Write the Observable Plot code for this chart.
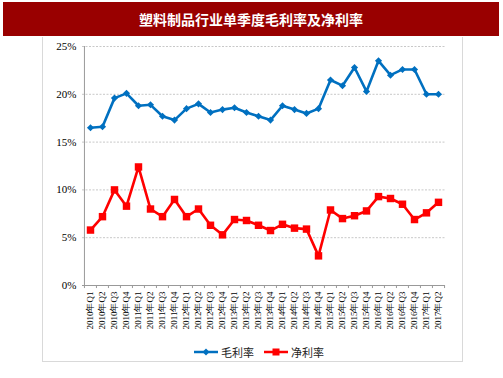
<!DOCTYPE html>
<html><head><meta charset="utf-8">
<script src="https://cdn.jsdelivr.net/npm/d3@7"></script>
<script src="https://cdn.jsdelivr.net/npm/@observablehq/plot@0.6"></script>
<style>
body{margin:0;width:503px;height:378px;position:relative;background:#fff;overflow:hidden;font-family:"Liberation Serif","Noto Sans CJK SC",serif;}
#title{position:absolute;left:3px;top:2px;width:496px;height:34px;background:#990000;color:#fff;font:bold 14px "Noto Sans CJK SC",sans-serif;line-height:34px;text-align:center;}
#box{position:absolute;left:42px;top:37px;width:419px;height:324px;border:1px solid #d9d9d9;border-top:none;}
#chart{position:absolute;left:0;top:38px;}
#legend{position:absolute;top:344px;left:0;width:503px;display:flex;justify-content:center;gap:10px;font:11px "Noto Sans CJK SC",sans-serif;color:#222;padding-left:15px;box-sizing:border-box;}
.li{display:flex;align-items:center;gap:3px;}
</style></head>
<body>
<div id="title">塑料制品行业单季度毛利率及净利率</div>
<div id="box"></div>
<div id="chart"></div>
<div id="legend"></div>
<script>
const years = [2010,2011,2012,2013,2014,2015,2016,2017];
const quarters = years.flatMap(y => [1,2,3,4].map(q => `${y}年Q${q}`)).slice(0, 30);
const grossMargin = [16.5,16.6,19.6,20.1,18.8,18.9,17.7,17.3,18.5,19.0,18.1,18.4,18.6,18.1,17.7,17.3,18.8,18.4,18.0,18.5,21.5,20.9,22.8,20.3,23.5,22.0,22.6,22.6,20.0,20.0];
const netMargin = [5.8,7.2,10.0,8.3,12.4,8.0,7.2,9.0,7.2,8.0,6.3,5.3,6.9,6.8,6.3,5.75,6.4,6.0,5.9,3.1,7.9,7.0,7.3,7.8,9.3,9.1,8.5,6.9,7.6,8.7];
const yTicks = [0,5,10,15,20,25];
const seriesNames = ["毛利率","净利率"];
const colors = ["#0070c0","#ff0000"];

const gross = quarters.map((q,i) => ({q, v: grossMargin[i]}));
const net = quarters.map((q,i) => ({q, v: netMargin[i]}));

const W = 503, H = 300, mL = 82, mR = 58;
const bw = (W - mL - mR) / quarters.length;

const chart = Plot.plot({
  width: W, height: H,
  marginLeft: mL, marginRight: mR, marginTop: 8, marginBottom: 53,
  style: {fontFamily: '"Liberation Serif","Times New Roman",serif', color: "#000", background: "transparent"},
  x: {type: "band", domain: quarters, padding: 0, label: null},
  y: {domain: [0, 25], label: null},
  marks: [
    Plot.ruleY(yTicks.filter(d => d > 0), {stroke: "#c8c8c8", strokeDasharray: "2,1.5", strokeWidth: 1}),
    Plot.axisY({ticks: yTicks, tickSize: 0, tickPadding: 6, fontSize: 11, tickFormat: d => d + "%", label: null}),
    Plot.axisX({tickRotate: -90, tickSize: 0, tickPadding: 6, fontSize: 9, label: null}),
    Plot.ruleX(quarters, {x: d => d, dx: -bw/2, y1: 0, y2: -0.32, stroke: "#999"}),
    Plot.ruleX(quarters.slice(-1), {x: d => d, dx: bw/2, y1: 0, y2: -0.32, stroke: "#999"}),
    Plot.ruleY([0], {stroke: "#999"}),
    Plot.ruleX(quarters.slice(0,1), {x: d => d, dx: -bw/2, y1: 0, y2: 25, stroke: "#999"}),
    Plot.line(gross, {x: "q", y: "v", stroke: colors[0], strokeWidth: 2.6}),
    Plot.dot(gross, {x: "q", y: "v", fill: colors[0], symbol: "diamond2", r: 3.2}),
    Plot.line(net, {x: "q", y: "v", stroke: colors[1], strokeWidth: 2.6}),
    Plot.dot(net, {x: "q", y: "v", fill: colors[1], symbol: "square", r: 4.2})
  ]
});
document.getElementById("chart").appendChild(chart);

const leg = document.getElementById("legend");
seriesNames.forEach((name, i) => {
  const item = document.createElement("div");
  item.className = "li";
  const marker = i === 0
    ? `<svg width="24" height="10"><line x1="0" y1="5" x2="24" y2="5" stroke="${colors[0]}" stroke-width="2.5"/><path d="M12 1.5 L15.5 5 L12 8.5 L8.5 5Z" fill="${colors[0]}"/></svg>`
    : `<svg width="24" height="10"><line x1="0" y1="5" x2="24" y2="5" stroke="${colors[1]}" stroke-width="2.5"/><rect x="8.5" y="1.5" width="7" height="7" fill="${colors[1]}"/></svg>`;
  item.innerHTML = marker + `<span>${name}</span>`;
  leg.appendChild(item);
});
</script>
</body></html>
